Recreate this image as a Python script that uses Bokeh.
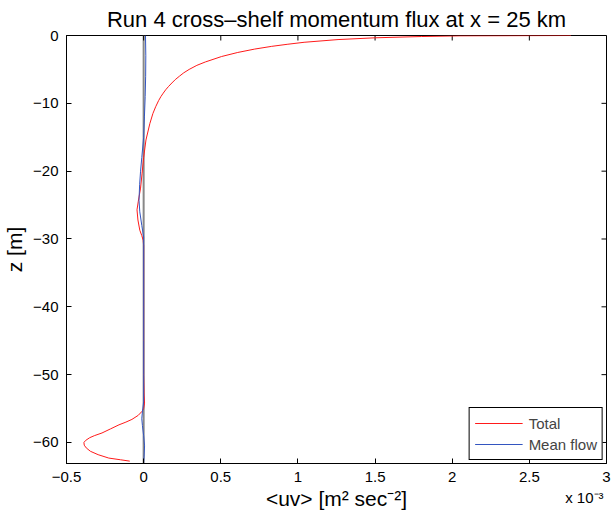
from bokeh.plotting import figure
from bokeh.models import (FixedTicker, Span, Legend, LegendItem, Title,
                          Range1d, ColumnDataSource)
from bokeh.embed import file_html
from bokeh.resources import INLINE

# ---- data (x values in units of 1e-3 m^2 s^-2) ----
total_z = [0, -0.02, -0.05, -0.15, -0.34, -0.6, -1.0, -1.3, -1.6, -2.0, -2.5,
           -3.1, -3.9, -4.4, -5.0, -5.5, -6.0, -6.5, -7.0, -7.5, -8.0, -8.5,
           -9.0, -9.6, -10.5, -11.5, -13, -15.4, -18, -20.3, -22.5, -24.5,
           -25.7, -27.2, -28.7, -29.5, -30.2, -31, -35, -40, -45, -50, -53,
           -54.2, -55.0, -55.4, -56.0, -56.6, -57.0, -57.4, -58.0, -58.6,
           -59.0, -59.3, -59.7, -60.0, -60.4, -60.8, -61.3, -61.8, -62.3,
           -62.55, -62.75]
total_uv = [2.77, 2.5, 2.05, 1.8, 1.5, 1.26, 1.04, 0.93, 0.83, 0.72, 0.61,
            0.505, 0.40, 0.345, 0.295, 0.26, 0.232, 0.205, 0.183, 0.162, 0.143,
            0.127, 0.112, 0.097, 0.078, 0.06, 0.04, 0.015, 0.0, -0.01, -0.02,
            -0.035, -0.043, -0.037, -0.025, -0.012, -0.003, 0.0, 0.0, 0.0, 0.0,
            0.0, 0.003, 0.006, 0.0, -0.01, -0.035, -0.076, -0.115, -0.16,
            -0.215, -0.27, -0.32, -0.35, -0.376, -0.387, -0.385, -0.372,
            -0.345, -0.295, -0.226, -0.15, -0.09]

mean_z = [0, -3, -6, -9, -12, -15, -18, -20, -22, -24.3, -26, -28, -29.7, -31,
          -35, -40, -45, -50, -54, -55.5, -56.5, -57.5, -59, -60.5, -62, -63]
mean_uv = [0.012, 0.014, 0.013, 0.01, 0.005, 0.0, -0.012, -0.02, -0.026, -0.03,
           -0.025, -0.012, 0.0, 0.0, 0.0, 0.0, 0.0, 0.0, 0.0, -0.008, -0.012,
           -0.008, 0.0, 0.006, 0.003, 0.0]

x_ticks = [-0.5, 0, 0.5, 1, 1.5, 2, 2.5, 3]
x_tick_labels = ["−0.5", "0", "0.5", "1", "1.5", "2", "2.5", "3"]
y_ticks = [0, -10, -20, -30, -40, -50, -60]
y_tick_labels = ["0", "−10", "−20", "−30", "−40", "−50", "−60"]

FONT = "Liberation Sans"
X0, X1, Y0, Y1 = -0.5, 3.0, -63.1, 0.0
FW, FH = 540, 428

p = figure(frame_width=FW, frame_height=FH, output_backend="svg",
           toolbar_location=None,
           x_range=Range1d(X0, X1), y_range=Range1d(Y0, Y1),
           min_border_left=59, min_border_right=6, min_border_top=27,
           min_border_bottom=50,
           title="Run 4 cross–shelf momentum flux at x = 25 km")
p.title.text_font = FONT
p.title.text_font_size = "22px"
p.title.text_font_style = "normal"
p.title.align = "center"
p.title.text_color = "black"
p.title.standoff = 8

p.xgrid.grid_line_color = None
p.ygrid.grid_line_color = None
p.outline_line_color = "black"
p.outline_line_width = 1
p.outline_line_alpha = 1
p.background_fill_color = "white"
p.border_fill_color = "white"

p.xaxis.ticker = FixedTicker(ticks=x_ticks)
p.xaxis.major_label_overrides = dict(zip(x_ticks, x_tick_labels))
p.yaxis.ticker = FixedTicker(ticks=y_ticks)
p.yaxis.major_label_overrides = dict(zip(y_ticks, y_tick_labels))

p.xaxis.axis_label = "<uv> [m² sec⁻²]"
p.yaxis.axis_label = "z [m]"

for ax in (p.xaxis[0], p.yaxis[0]):
    ax.axis_line_color = "black"
    ax.major_tick_line_color = "black"
    ax.major_tick_in = 5
    ax.major_tick_out = 0
    ax.minor_tick_line_color = None
    ax.major_label_text_font = FONT
    ax.major_label_text_font_size = "15px"
    ax.major_label_text_color = "black"
    ax.axis_label_text_font = FONT
    ax.axis_label_text_font_size = "21px"
    ax.axis_label_text_font_style = "normal"
    ax.axis_label_text_color = "black"
p.xaxis.major_label_standoff = 8
p.xaxis.axis_label_standoff = 2
p.yaxis.major_label_standoff = 8
p.yaxis.axis_label_standoff = 4

# mirrored tick marks on the top and right frame edges (5 px long)
tick_dy = 5 * (Y1 - Y0) / FH
tick_dx = 5 * (X1 - X0) / FW
p.segment(x0=x_ticks, x1=x_ticks, y0=[Y1] * len(x_ticks),
          y1=[Y1 - tick_dy] * len(x_ticks), line_color="black", line_width=1)
p.segment(x0=[X1] * len(y_ticks), x1=[X1 - tick_dx] * len(y_ticks),
          y0=y_ticks, y1=y_ticks, line_color="black", line_width=1)

# zero line
p.add_layout(Span(location=0, dimension="height", line_color="#888888",
                  line_width=2, level="underlay"))

src_t = ColumnDataSource(dict(x=total_uv, z=total_z))
src_m = ColumnDataSource(dict(x=mean_uv, z=mean_z))
r_t = p.line("x", "z", source=src_t, line_color="#ff1a1a", line_width=1)
r_m = p.line("x", "z", source=src_m, line_color="#3355c0", line_width=1)

legend = Legend(items=[LegendItem(label="Total", renderers=[r_t]),
                       LegendItem(label="Mean flow", renderers=[r_m])],
                location="bottom_right")
legend.border_line_color = "black"
legend.border_line_width = 1
legend.border_line_alpha = 1
legend.background_fill_alpha = 1
legend.label_text_font = FONT
legend.label_text_font_size = "15px"
legend.glyph_width = 48
legend.glyph_height = 20
legend.label_height = 20
legend.label_standoff = 6
legend.spacing = 1
legend.padding = 5
legend.margin = 3
p.add_layout(legend, "center")

# axis multiplier, placed in the bottom panel at the right end
mult = Title(text="x 10⁻³", align="right", vertical_align="top",
             standoff=-48, offset=3, text_font=FONT, text_font_size="15px",
             text_font_style="normal", text_color="black")
p.add_layout(mult, "below")

open("out.html", "w").write(file_html(p, INLINE))
